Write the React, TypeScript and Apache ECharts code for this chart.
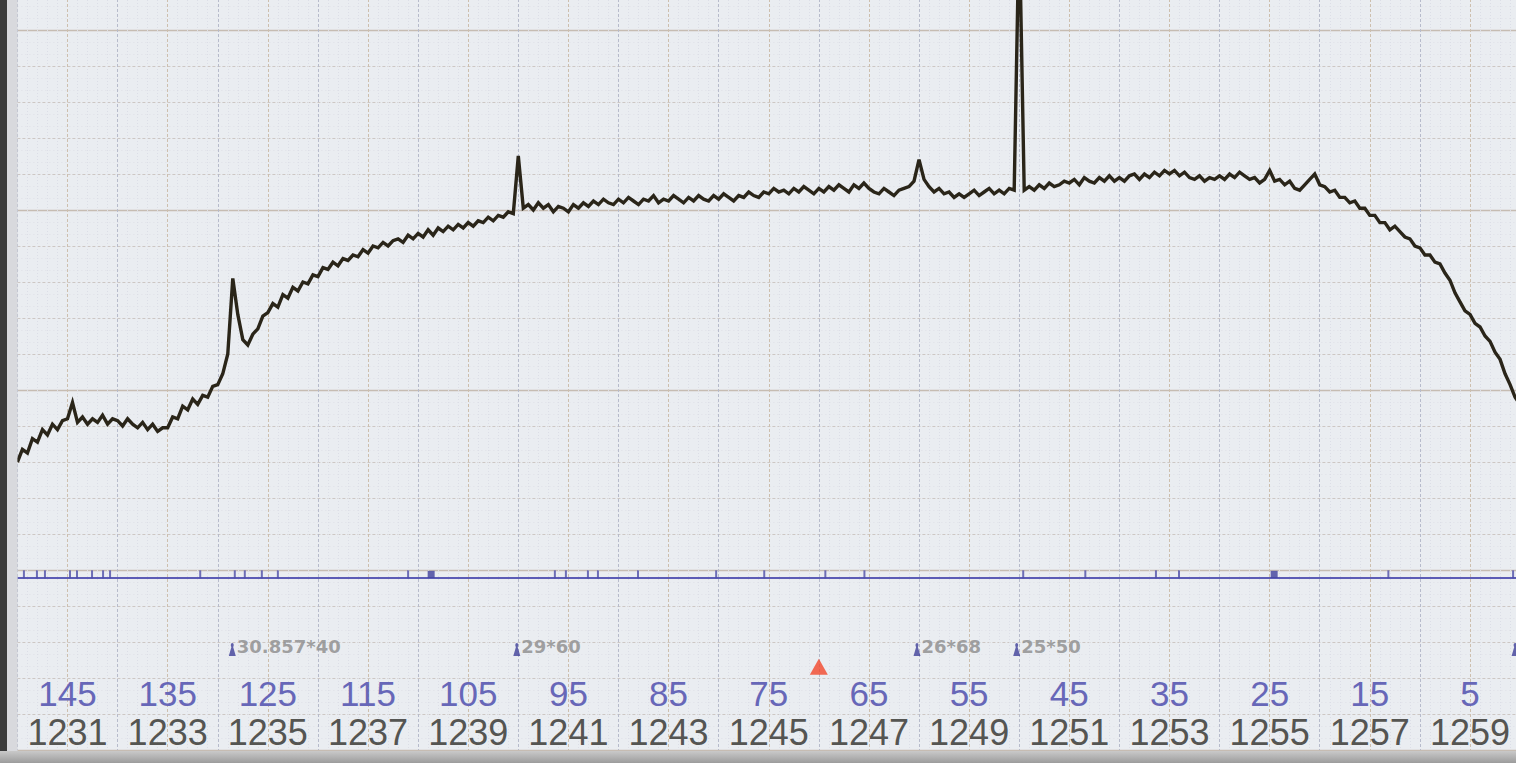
import React, { useEffect, useRef } from "react";
import * as echarts from "echarts";

// ---------- data ----------
const X_MIN = 1230;
const X_MAX = 1260;
const Y_MIN = 0;
const Y_MAX = 210;

const bottomLabels = ["1231", "1233", "1235", "1237", "1239", "1241", "1243", "1245", "1247", "1249", "1251", "1253", "1255", "1257", "1259"];
const topLabels = ["145", "135", "125", "115", "105", "95", "85", "75", "65", "55", "45", "35", "25", "15", "5"];

// trace sampled every 0.1 unit starting at 1230.0
const traceStart = 1230;
const traceStepTenths = 1;
const traceValues = [
  80, 83.5, 82.5, 86.5, 85.5, 89, 87.5, 90.5, 89, 91.5,
  92, 96.5, 91, 92.5, 90.5, 92, 91, 93, 90.5, 92,
  91.5, 90, 92, 90.5, 89.5, 91, 89, 90.5, 88.5, 89.5,
  89.5, 92.5, 92, 95.5, 94.5, 97.5, 96, 98.5, 98, 101,
  101.5, 104.5, 110, 131, 121, 114, 112.5, 115.5, 117, 120.5,
  121.5, 124, 123, 126.5, 125.5, 128.5, 127.5, 130, 129.5, 132,
  131.5, 134, 133.5, 135.5, 134.5, 136.5, 136, 137.5, 137, 139,
  138, 140, 139.5, 141, 140, 141.5, 142, 141, 143, 142,
  143.5, 142.5, 144.5, 143, 145, 144, 145.5, 144.5, 146, 145,
  146.5, 145.5, 147, 146.5, 148, 147, 148.5, 148, 149.5, 149,
  165, 150.5, 151.5, 150, 152, 150.5, 151.5, 149.5, 151, 150.5,
  149.5, 151.5, 150.5, 152, 151, 152.5, 151.5, 153, 152, 151.5,
  153, 152, 153.5, 152.5, 151.5, 153, 152.5, 154, 152, 153,
  152.5, 154, 153, 152, 153.5, 152.5, 154, 153, 152.5, 154,
  153, 154.5, 153.5, 152.5, 154, 153.5, 155, 154, 153.5, 155,
  154.5, 156, 155, 155.5, 154.5, 156, 155, 156.5, 155.5, 154.5,
  156, 155, 156.5, 155.5, 157, 156, 155, 157, 156, 157.5,
  156, 155, 154.5, 156, 155, 154, 155.5, 156, 156.5, 158,
  164, 158.5, 156.5, 155, 156, 154.5, 155, 153.5, 154.5, 153.5,
  154.5, 155.5, 154, 155, 156, 154.5, 155.5, 154.5, 156, 155.5,
  230, 155.5, 156.5, 155.5, 157, 156, 157.5, 156.5, 157, 158,
  157.5, 158.5, 157, 159, 158, 157.5, 159, 158, 159.5, 158,
  159, 158, 159.5, 160, 158.5, 160, 159, 160.5, 159.5, 161,
  160, 161, 159.5, 160.5, 159, 158.5, 159.5, 158, 159, 158.5,
  159.5, 158.5, 160, 159, 160.5, 159.5, 158.5, 159, 157.5, 158.5,
  161, 158, 158.5, 157, 158, 156, 155.5, 157, 158.5, 160,
  157, 156.5, 155, 155.5, 153.5, 153.5, 152, 152.5, 150.5, 150.5,
  148.5, 148.5, 146.5, 146.5, 144.5, 145.5, 144, 142.5, 142, 140,
  139.5, 137.5, 137.5, 135.5, 135, 132.5, 130.5, 127, 124.5, 122,
  121, 118.5, 117.5, 115, 113.5, 110.5, 108.5, 104.5, 101.5, 98,
  96,
];

const bandLevel = 47.8;
const eventTickLevel = 48.8;
const eventTicks = [1230.13, 1230.39, 1230.55, 1231.05, 1231.19, 1231.49, 1231.71, 1231.85, 1233.65, 1234.34, 1234.54, 1234.88, 1235.2, 1237.8, 1240.73, 1240.95, 1241.39, 1241.59, 1242.39, 1243.95, 1244.91, 1246.13, 1246.91, 1250.08, 1251.32, 1252.73, 1253.19, 1257.37, 1259.86];
const eventSquares = [1238.26, 1255.09];

const noteLevel = 27.9;
const noteX = [1234.29, 1239.97, 1247.96, 1249.95, 1259.9];
const noteText = ["30.857*40", "29*60", "26*68", "25*50", ""];

const alarmX = [1246.0];
const alarmLevel = 23.1;

// ---------- component ----------
export default function App() {
  const ref = useRef<HTMLDivElement>(null);

  useEffect(() => {
    if (!ref.current) return;
    const chart = echarts.init(ref.current, undefined, { renderer: "svg" });

    const traceData = traceValues.map((v, i) => [(traceStart * 10 + i * traceStepTenths) / 10, v]);

    const option: any = {
      animation: false,
      backgroundColor: "#d9dade",
      grid: {
        left: 17.4,
        top: -6,
        width: 1502.7,
        height: 756,
        outerBoundsMode: "none",
        containLabel: false,
        show: true,
        backgroundColor: "#eaedf1",
        borderWidth: 0,
      },
      xAxis: {
        type: "value",
        min: X_MIN,
        max: X_MAX,
        interval: 1,
        axisLine: { show: false, onZero: false },
        axisTick: { show: false },
        minorTick: { show: false, splitNumber: 5 },
        minorSplitLine: { show: true, lineStyle: { color: "#dcdee7", width: 1, type: [1, 2] } },
        splitLine: { show: true, lineStyle: { color: ["#b7bbcb", "#cdbfae"], width: 1, type: [3, 2] } },
        axisLabel: {
          inside: true,
          margin: 37.5,
          verticalAlign: "middle",
          align: "center",
          formatter: (v: number) => {
            const k = Math.round(v) - 1231;
            if (k < 0 || k % 2 !== 0) return "";
            const idx = k / 2;
            if (idx >= bottomLabels.length) return "";
            return `{t|${topLabels[idx]}}\n{b|${bottomLabels[idx]}}`;
          },
          rich: {
            t: { color: "#6767b8", fontSize: 35, lineHeight: 39, fontFamily: "Liberation Sans, Arial, sans-serif", align: "center" },
            b: { color: "#555552", fontSize: 36, lineHeight: 39, fontFamily: "Liberation Sans, Arial, sans-serif", align: "center" },
          },
        },
      },
      yAxis: [
        {
          type: "value",
          min: Y_MIN,
          max: Y_MAX,
          interval: 10,
          axisLine: { show: false },
          axisTick: { show: false },
          axisLabel: { show: false },
          minorTick: { show: false, splitNumber: 3 },
          minorSplitLine: { show: true, lineStyle: { color: "#dfe0e7", width: 1, type: [1, 3] } },
          splitLine: { show: true, lineStyle: { color: "#cdc7c4", width: 1, type: [3, 2] } },
        },
        {
          type: "value",
          min: Y_MIN,
          max: Y_MAX,
          interval: 50,
          position: "right",
          axisLine: { show: false },
          axisTick: { show: false },
          axisLabel: { show: false },
          splitLine: { show: true, lineStyle: { color: "#c6bcb2", width: 1.3 } },
        },
      ],
      series: [
        {
          type: "line",
          data: [[X_MIN, bandLevel], [X_MAX, bandLevel]],
          showSymbol: false,
          silent: true,
          lineStyle: { color: "#5c5cb6", width: 2 },
          z: 3,
        },
        {
          type: "scatter",
          data: eventTicks.map((x) => [x, eventTickLevel]),
          symbol: "rect",
          symbolSize: [2, 8],
          silent: true,
          itemStyle: { color: "#4d4da8" },
          z: 4,
        },
        {
          type: "scatter",
          data: eventSquares.map((x) => [x, eventTickLevel]),
          symbol: "rect",
          symbolSize: [7, 7],
          silent: true,
          itemStyle: { color: "#40409c" },
          z: 4,
        },
        {
          type: "scatter",
          data: noteX.map((x) => [x, noteLevel]),
          symbol: "path://M5,0 C7,0 7,3 6,4 L9,13 L1,13 L4,4 C3,3 3,0 5,0 Z",
          symbolSize: [7, 13],
          silent: true,
          itemStyle: { color: "#3e3e98" },
          label: {
            show: true,
            position: "right",
            distance: 1,
            formatter: (p: any) => noteText[p.dataIndex],
            color: "#8a8a8a",
            fontSize: 18,
            fontWeight: "bold",
            fontFamily: "DejaVu Sans, Verdana, sans-serif",
            offset: [0, -3],
          },
          z: 4,
        },
        {
          type: "scatter",
          data: alarmX.map((x) => [x, alarmLevel]),
          symbol: "triangle",
          symbolSize: [18, 16],
          silent: true,
          itemStyle: { color: "#f2462b" },
          z: 4,
        },
        {
          type: "line",
          data: traceData,
          showSymbol: false,
          silent: true,
          clip: true,
          lineStyle: { color: "#2a2519", width: 3.4, join: "miter" },
          z: 5,
        },
      ],
      graphic: [
        { type: "rect", left: 0, top: 0, shape: { width: 7, height: 763 }, style: { fill: "#3b3b3b" }, z: 100 },
        { type: "rect", left: 7, top: 0, shape: { width: 10.4, height: 763 }, style: { fill: "#d8d9dd" }, z: 100 },
        {
          type: "rect",
          left: 0,
          top: 751,
          shape: { width: 1516, height: 12 },
          style: {
            fill: new echarts.graphic.LinearGradient(0, 0, 0, 1, [
              { offset: 0, color: "#c9c9c9" },
              { offset: 1, color: "#9c9c9c" },
            ]),
          },
          z: 100,
        },
      ],
    };

    chart.setOption(option);
    return () => chart.dispose();
  }, []);

  return (
    <div
      ref={ref}
      style={{ position: "fixed", left: 0, top: 0, width: 1516, height: 763 }}
    />
  );
}
